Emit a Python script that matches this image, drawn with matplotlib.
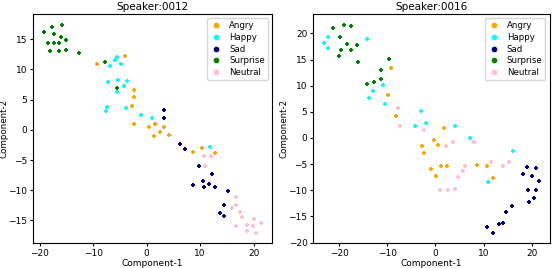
import matplotlib
matplotlib.use("Agg")
import matplotlib.pyplot as plt
from matplotlib.lines import Line2D
import numpy as np

# emosi dan warna
emotions = ["Angry", "Happy", "Sad", "Surprise", "Neutral"]
colors = ["orange", "cyan", "navy", "green", "pink"]

# Speaker 0012
s12_angry_x = [-9.2, -4.0, -2.3, -2.3, -2.7, -2.3, 0.5, 1.5, 3.2, 2.5, 1.3, 4.1, 8.6, 10.3, 12.7]
s12_angry_y = [10.8, 12.2, 6.5, 5.4, 3.9, 1.0, 0.5, 0.9, 0.5, -0.3, -1.05, -0.8, -3.6, -3.0, -3.8]
s12_happy_x = [-5.5, -6.0, -4.7, -6.8, -7.2, -5.3, -3.6, -4.2, -5.5, -7.4, -7.5, -3.8, -1.0, 1.0, 11.9]
s12_happy_y = [12.0, 11.5, 10.8, 10.5, 7.9, 8.2, 8.0, 7.2, 6.2, 3.7, 3.1, 3.6, 2.5, 1.9, -2.8]
s12_sad_x = [3.3, 3.2, 6.3, 7.1, 9.7, 12.3, 10.6, 8.6, 10.7, 11.7, 12.7, 15.2, 14.4, 13.7, 14.4]
s12_sad_y = [3.3, 1.9, -2.3, -3.1, -6.0, -7.3, -8.4, -9.2, -9.4, -8.9, -9.5, -10.2, -12.5, -13.7, -14.3]
s12_surprise_x = [-19.2, -17.7, -15.8, -17.3, -18.4, -17.3, -16.0, -16.4, -15.1, -18.1, -16.4, -15.1, -12.6, -7.7, -5.6]
s12_surprise_y = [16.1, 17.0, 17.4, 15.8, 14.3, 14.4, 15.4, 14.3, 14.8, 13.1, 13.0, 13.2, 12.7, 11.2, 6.9]
s12_neutral_x = [10.7, 12.1, 10.9, 16.7, 16.7, 16.0, 17.4, 17.9, 16.7, 18.8, 18.7, 20.1, 19.9, 21.4, 20.4]
s12_neutral_y = [-4.4, -4.4, -6.0, -11.1, -12.5, -13.0, -13.6, -14.5, -15.9, -15.7, -16.7, -14.8, -15.9, -15.4, -17.0]

# Speaker 0016
s16_angry_x = [-9.2, -9.9, -8.2, 1.7, -0.4, -2.8, 0.5, -2.4, -0.96, 1.1, 2.4, 0.2, 8.6, 10.8, 11.9]
s16_angry_y = [13.4, 8.3, 4.2, 2.0, -0.3, -1.5, -1.3, -2.9, -6.0, -5.4, -5.4, -7.3, -5.1, -5.4, -7.7]
s16_happy_x = [-22.3, -23.2, -22.3, -14.2, -10.8, -12.9, -13.8, -10.5, -3.0, -1.9, -4.3, 4.1, 7.1, 16.0, 11.0]
s16_happy_y = [19.3, 18.1, 17.3, 19.0, 10.1, 9.0, 7.6, 6.5, 5.1, 2.8, 2.2, 2.3, -0.1, -2.4, -8.5]
s16_sad_x = [19.0, 20.8, 18.1, 20.1, 21.5, 19.3, 20.8, 20.5, 19.4, 15.8, 14.7, 14.0, 13.2, 10.6, 11.9]
s16_sad_y = [-5.6, -5.8, -6.8, -7.2, -8.3, -10.0, -10.0, -11.5, -12.2, -13.0, -14.2, -16.3, -16.5, -17.1, -18.1]
s16_surprise_x = [-21.2, -19.0, -17.6, -19.8, -18.3, -16.2, -19.7, -17.6, -20.0, -16.1, -9.6, -11.3, -12.8, -14.3, -11.3]
s16_surprise_y = [21.1, 21.7, 21.5, 19.4, 17.9, 17.7, 16.8, 16.8, 15.6, 14.5, 15.1, 13.0, 10.8, 10.4, 11.3]
s16_neutral_x = [-7.7, -7.4, -2.3, 3.6, 2.1, 8.1, 6.1, 5.7, 4.6, 1.0, 2.6, 4.0, 11.5, 14.1, 15.2]
s16_neutral_y = [5.8, 2.2, 1.6, -0.7, -1.5, -0.7, -5.3, -6.4, -7.5, -9.9, -10.0, -9.7, -4.6, -5.4, -4.6]

speakers = ["Speaker:0012", "Speaker:0016"]
data = [
    [(s12_angry_x, s12_angry_y), (s12_happy_x, s12_happy_y), (s12_sad_x, s12_sad_y),
     (s12_surprise_x, s12_surprise_y), (s12_neutral_x, s12_neutral_y)],
    [(s16_angry_x, s16_angry_y), (s16_happy_x, s16_happy_y), (s16_sad_x, s16_sad_y),
     (s16_surprise_x, s16_surprise_y), (s16_neutral_x, s16_neutral_y)],
]

fig = plt.figure(figsize=(5.52, 2.68), dpi=100)
ax1 = fig.add_axes([0.0598, 0.0933, 0.433, 0.854])
ax2 = fig.add_axes([0.567, 0.0933, 0.429, 0.854])

for ax, title, d in zip([ax1, ax2], speakers, data):
    for (xs, ys), c in zip(d, colors):
        ax.scatter(xs, ys, c=c, marker="P", s=6, linewidths=0)
    ax.set_title(title, fontsize=7.5, pad=3)
    ax.set_xlabel("Component-1", fontsize=6.5, labelpad=1)
    ax.set_ylabel("Component-2", fontsize=6.3, labelpad=0)
    ax.tick_params(labelsize=6.5, length=2.5, pad=1.5)
    handles = [Line2D([], [], marker="o", linestyle="", color=c, markersize=4.5,
                      markeredgecolor="white", markeredgewidth=0.4) for c in colors]
    ax.legend(handles, emotions, loc="upper right", fontsize=6.2, handlelength=1.4,
              borderpad=0.35, labelspacing=0.3, handletextpad=0.8)

fig.savefig("out.png", dpi=100)
